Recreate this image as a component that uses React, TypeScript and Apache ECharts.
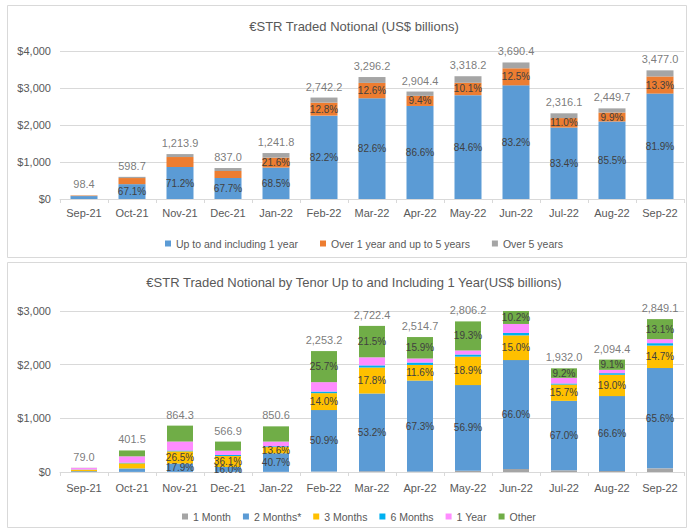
import React, { useEffect, useRef } from "react";
import * as echarts from "echarts";

const months = ["Sep-21", "Oct-21", "Nov-21", "Dec-21", "Jan-22", "Feb-22", "Mar-22", "Apr-22", "May-22", "Jun-22", "Jul-22", "Aug-22", "Sep-22"];

// Top chart: traded notional by maturity bucket (US$ bn)
const totalNotional = [98.4, 598.7, 1213.9, 837.0, 1241.8, 2742.2, 3296.2, 2904.4, 3318.2, 3690.4, 2316.1, 2449.7, 3477.0];
const upTo1Y = [79.0, 401.5, 864.3, 566.9, 850.6, 2253.2, 2722.4, 2514.7, 2806.2, 3071.8, 1932.0, 2094.4, 2849.1];
const over1To5Y = [15.0, 165.0, 270.0, 190.0, 268.2, 351.0, 415.3, 273.0, 335.1, 461.3, 254.8, 242.5, 462.4];
const over5Y = [4.4, 32.2, 79.6, 80.1, 123.0, 138.0, 158.5, 116.7, 176.9, 157.3, 129.3, 112.8, 165.5];
const upTo1YPct = [null, "67.1%", "71.2%", "67.7%", "68.5%", "82.2%", "82.6%", "86.6%", "84.6%", "83.2%", "83.4%", "85.5%", "81.9%"];
const over1To5YPct = [null, null, null, null, "21.6%", "12.8%", "12.6%", "9.4%", "10.1%", "12.5%", "11.0%", "9.9%", "13.3%"];

// Bottom chart: up to 1 year by tenor (US$ bn)
const tenorTotals = [79.0, 401.5, 864.3, 566.9, 850.6, 2253.2, 2722.4, 2514.7, 2806.2, 3071.8, 1932.0, 2094.4, 2849.1];
const tenor1M = [0, 2, 2, 2, 3, 7, 14, 10.8, 22.5, 58, 31.6, 19, 68.1];
const tenor2M = [15, 65, 154.7, 90.7, 346.2, 1146.9, 1448.3, 1692.4, 1596.7, 2027.4, 1294.4, 1394.9, 1869.0];
const tenor3M = [28, 95, 229.0, 204.7, 115.7, 315.4, 484.6, 291.7, 530.4, 460.8, 303.3, 397.9, 418.8];
const tenor6M = [4, 12, 15, 20, 15, 30, 40, 45, 40, 45, 20, 30, 45];
const tenor1Y = [30, 118, 167, 80, 87, 174.8, 150.2, 75, 75, 167.3, 105, 62, 75];
const tenorOther = [2, 109.5, 296.6, 169.5, 283.7, 579.1, 585.3, 399.8, 541.6, 313.3, 177.7, 190.6, 373.2];
const tenor2MPct = [null, null, "17.9%", "16.0%", "40.7%", "50.9%", "53.2%", "67.3%", "56.9%", "66.0%", "67.0%", "66.6%", "65.6%"];
const tenor3MPct = [null, null, "26.5%", "36.1%", "13.6%", "14.0%", "17.8%", "11.6%", "18.9%", "15.0%", "15.7%", "19.0%", "14.7%"];
const tenorOtherPct = [null, null, null, null, null, "25.7%", "21.5%", "15.9%", "19.3%", "10.2%", "9.2%", "9.1%", "13.1%"];

const FONT = "'Liberation Sans', Arial, sans-serif";
const TXT = "#595959";
const GRID = "#D9D9D9";

const fmtTotal = (v: number) => v.toLocaleString("en-US", { minimumFractionDigits: 1, maximumFractionDigits: 1 });

function pctLabel(labels: (string | null)[]) {
  return {
    show: true,
    position: "inside",
    color: "#404040",
    fontSize: 10,
    fontFamily: FONT,
    textBorderWidth: 0,
    formatter: (p: any) => labels[p.dataIndex] ?? "",
  };
}

function barSeries(name: string, data: number[], color: string, stack: string, axis: number, width: number, labels?: (string | null)[]) {
  return {
    type: "bar",
    name,
    data,
    stack,
    xAxisIndex: axis,
    yAxisIndex: axis,
    barWidth: width,
    itemStyle: { color },
    label: labels ? pctLabel(labels) : { show: false },
    emphasis: { disabled: true },
  };
}

function totalSeries(data: number[], axis: number) {
  return {
    type: "scatter",
    data,
    xAxisIndex: axis,
    yAxisIndex: axis,
    symbolSize: 1,
    itemStyle: { color: "rgba(0,0,0,0)" },
    silent: true,
    z: 10,
    label: {
      show: true,
      position: "top",
      distance: 5,
      color: TXT,
      fontSize: 11,
      fontFamily: FONT,
      formatter: (p: any) => fmtTotal(p.value),
    },
  };
}

function xAxis(gridIndex: number, margin: number) {
  return {
    type: "category",
    gridIndex,
    data: months,
    axisLine: { lineStyle: { color: GRID } },
    axisTick: { show: true, length: 4, lineStyle: { color: GRID } },
    axisLabel: { color: TXT, fontSize: 11, fontFamily: FONT, margin },
  };
}

function yAxis(gridIndex: number, max: number) {
  return {
    type: "value",
    gridIndex,
    min: 0,
    max,
    interval: 1000,
    axisLine: { show: false },
    axisTick: { show: false },
    splitLine: { lineStyle: { color: GRID } },
    axisLabel: {
      color: TXT,
      fontSize: 11,
      fontFamily: FONT,
      margin: 9,
      formatter: (v: number) => "$" + v.toLocaleString("en-US"),
    },
  };
}

const legendBase = {
  icon: "rect",
  itemWidth: 6,
  itemHeight: 6,
  textStyle: { color: TXT, fontSize: 10.5, fontFamily: FONT },
};

export default function App() {
  const ref = useRef<HTMLDivElement>(null);
  useEffect(() => {
    const chart = echarts.init(ref.current!, null, { renderer: "svg" });
    chart.setOption({
      animation: false,
      textStyle: { fontFamily: FONT },
      graphic: [
        { type: "rect", z: -10, silent: true, shape: { x: 7.5, y: 5.5, width: 679, height: 252 }, style: { fill: "#fff", stroke: GRID, lineWidth: 1 } },
        { type: "rect", z: -10, silent: true, shape: { x: 7.5, y: 262.5, width: 679, height: 265 }, style: { fill: "#fff", stroke: GRID, lineWidth: 1 } },
        { type: "text", z: 10, x: 354, y: 26, style: { text: "€STR Traded Notional (US$ billions)", fill: TXT, font: `13px ${FONT}`, textAlign: "center", textVerticalAlign: "middle" } },
        { type: "text", z: 10, x: 354, y: 282, style: { text: "€STR Traded Notional by Tenor Up to and Including 1 Year(US$ billions)", fill: TXT, font: `13px ${FONT}`, textAlign: "center", textVerticalAlign: "middle" } },
      ],
      grid: [
        { left: 60, right: 5, top: 51, height: 148 },
        { left: 60, right: 5, top: 311, height: 161 },
      ],
      xAxis: [xAxis(0, 8), xAxis(1, 10)],
      yAxis: [yAxis(0, 4000), yAxis(1, 3000)],
      legend: [
        {
          ...legendBase,
          top: 233,
          left: 160,
          itemGap: 22,
          data: ["Up to and including 1 year", "Over 1 year and up to 5 years", "Over 5 years"],
        },
        {
          ...legendBase,
          top: 506,
          left: 177,
          itemGap: 12,
          data: ["1 Month", "2 Months*", "3 Months", "6 Months", "1 Year", "Other"],
        },
      ],
      series: [
        barSeries("Up to and including 1 year", upTo1Y, "#5B9BD5", "top", 0, 27, upTo1YPct),
        barSeries("Over 1 year and up to 5 years", over1To5Y, "#ED7D31", "top", 0, 27, over1To5YPct),
        barSeries("Over 5 years", over5Y, "#A5A5A5", "top", 0, 27),
        totalSeries(totalNotional, 0),
        barSeries("1 Month", tenor1M, "#A5A5A5", "bottom", 1, 26),
        barSeries("2 Months*", tenor2M, "#5B9BD5", "bottom", 1, 26, tenor2MPct),
        barSeries("3 Months", tenor3M, "#FFC000", "bottom", 1, 26, tenor3MPct),
        barSeries("6 Months", tenor6M, "#00B0F0", "bottom", 1, 26),
        barSeries("1 Year", tenor1Y, "#FF8CFF", "bottom", 1, 26),
        barSeries("Other", tenorOther, "#70AD47", "bottom", 1, 26, tenorOtherPct),
        totalSeries(tenorTotals, 1),
      ],
    });
    return () => chart.dispose();
  }, []);
  return <div ref={ref} style={{ position: "absolute", left: 0, top: 0, width: 689, height: 529, background: "#fff" }} />;
}
